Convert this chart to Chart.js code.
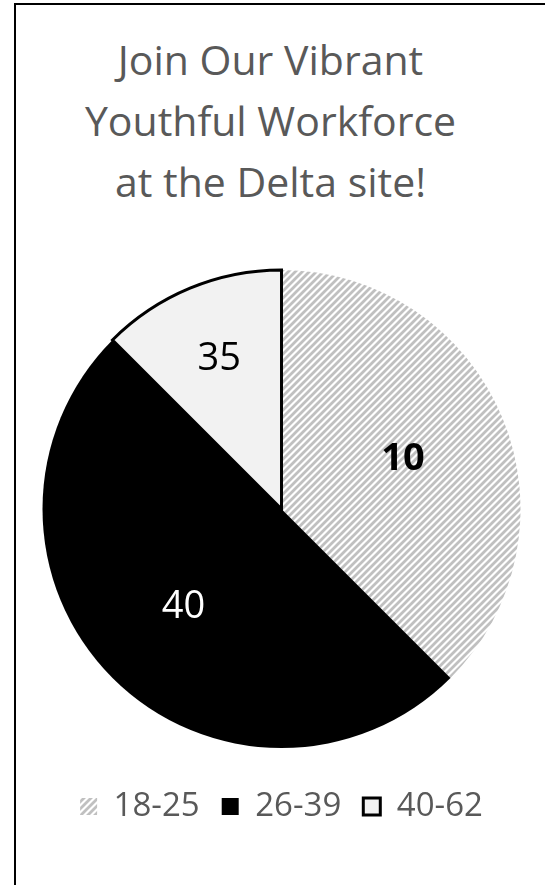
<!DOCTYPE html>
<html>
<head>
<meta charset="utf-8">
<script src="https://cdn.jsdelivr.net/npm/chart.js@4"></script>
<style>
  html, body { margin: 0; padding: 0; background: #fff; }
  body { width: 545px; height: 885px; position: relative; overflow: hidden; }
  #frame { position: absolute; left: 14px; top: 3px; width: 600px; height: 900px;
           border-left: 2px solid #000; border-top: 2px solid #000; }
  #titulo { position: absolute; left: 0; top: 29px; width: 541px; text-align: center;
            font-family: "Open Sans", sans-serif; font-size: 41px; line-height: 61px; color: #595959; }
  #grafico { position: absolute; left: 0; top: 0; }
</style>
</head>
<body>
<div id="frame"></div>
<div id="titulo">Join Our Vibrant<br>Youthful Workforce<br>at the Delta site!</div>
<canvas id="grafico" width="545" height="885"></canvas>
<script>
// faixas etárias e tamanho das fatias
const faixas = ["18-25", "26-39", "40-62"];
const fatias = [37.5, 50, 12.5];
// números escritos dentro das fatias
const rotulos = ["10", "40", "35"];

// hachura cinza para a primeira fatia
function hachura() {
    const s = 7;
    const c = document.createElement("canvas");
    c.width = s; c.height = s;
    const g = c.getContext("2d");
    g.fillStyle = "#ffffff";
    g.fillRect(0, 0, s, s);
    g.strokeStyle = "#c0c0c0";
    g.lineWidth = 2.8;
    g.beginPath();
    g.moveTo(-1, 1); g.lineTo(1, -1);
    g.moveTo(0, s); g.lineTo(s, 0);
    g.moveTo(s - 1, s + 1); g.lineTo(s + 1, s - 1);
    g.stroke();
    return g.createPattern(c, "repeat");
}

const estiloRotulo = {
    cor: ["#000000", "#ffffff", "#000000"],
    peso: ["bold", "normal", "normal"],
    raio: [0.55, 0.58, 0.68]
};

const rotulosPlugin = {
    id: "rotulos",
    afterDatasetsDraw(chart) {
        const ctx = chart.ctx;
        const meta = chart.getDatasetMeta(0);
        meta.data.forEach((arc, i) => {
            const p = arc.getProps(["x", "y", "startAngle", "endAngle", "outerRadius"], true);
            const a = (p.startAngle + p.endAngle) / 2;
            const r = p.outerRadius * estiloRotulo.raio[i];
            ctx.save();
            ctx.font = estiloRotulo.peso[i] + " 38px 'Open Sans', sans-serif";
            ctx.fillStyle = estiloRotulo.cor[i];
            ctx.textAlign = "center";
            ctx.textBaseline = "middle";
            ctx.fillText(rotulos[i], p.x + Math.cos(a) * r, p.y + Math.sin(a) * r);
            ctx.restore();
        });
    }
};

new Chart(document.getElementById("grafico"), {
    type: "pie",
    data: {
        labels: faixas,
        datasets: [{
            data: fatias,
            backgroundColor: [hachura(), "#000000", "#f2f2f2"],
            borderColor: ["#ffffff", "#000000", "#000000"],
            borderWidth: [0, 0, 3],
            borderJoinStyle: "miter"
        }]
    },
    options: {
        responsive: false,
        animation: false,
        layout: {
            padding: { left: 41, right: 23, top: 250, bottom: 52 }
        },
        plugins: {
            title: { display: false },
            tooltip: { enabled: false },
            legend: {
                position: "bottom",
                labels: {
                    color: "#595959",
                    font: { family: "'Open Sans', sans-serif", size: 33 },
                    boxWidth: 17,
                    boxHeight: 17,
                    padding: 22
                }
            }
        }
    },
    plugins: [rotulosPlugin]
});
</script>
</body>
</html>
